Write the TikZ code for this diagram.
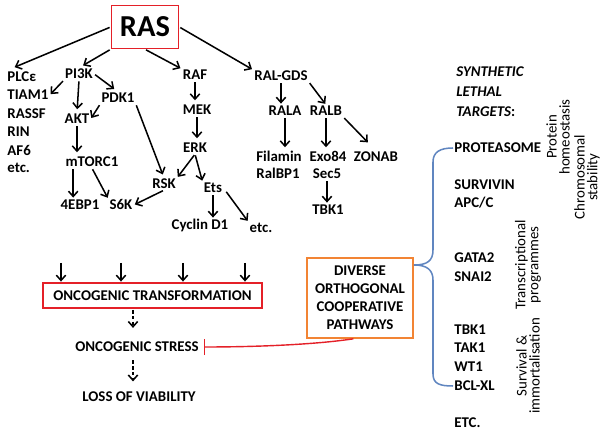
\documentclass[tikz,border=0pt]{standalone}
\usepackage{fontspec}
\setmainfont{Carlito}
\usetikzlibrary{arrows.meta,calc}

\definecolor{rasred}{RGB}{228,32,40}
\definecolor{divorange}{RGB}{242,132,52}
\definecolor{braceblue}{RGB}{96,134,192}

\tikzset{
	lbl/.style={font=\fontsize{12.7}{15.8}\selectfont\bfseries, inner sep=1pt, text height=8.2pt, text depth=0pt},
	arr/.style={-{Straight Barb[length=4.5pt,width=8pt]}, line width=1.3pt, shorten >=1pt, shorten <=1pt},
	side/.style={font=\fontsize{12.7}{11}\selectfont, rotate=90, align=center, inner sep=0pt},
}

\begin{document}
\begin{tikzpicture}[x=0.03cm,y=-0.03cm]
			\useasboundingbox (0,0) rectangle (602,430);
			
			% RAS and the effector families
			\node[draw=rasred, line width=1.4pt, minimum width=2.01cm, minimum height=1.29cm, font=\fontsize{26}{26}\selectfont\bfseries] (ras) at (145,27) {RAS};
			
			\foreach \n/\t/\y in {plc/PLCε/77, tiam/TIAM1/95, rassf/RASSF/114, rin/RIN/132, afsix/AF6/151, etcl/etc./168}
			\node[lbl,anchor=west] (\n) at (6,\y) {\t};
			
			\node[lbl] (pik) at (79,74) {PI3K};
			\node[lbl] (pdk) at (118,98) {PDK1};
			\node[lbl] (akt) at (77,119) {AKT};
			\node[lbl] (mtor) at (92,162) {mTORC1};
			\node[lbl] (ebp) at (80,205) {4EBP1};
			\node[lbl] (sixk) at (121,205) {S6K};
			
			\node[lbl] (raf) at (195,75) {RAF};
			\node[lbl] (mek) at (197,110) {MEK};
			\node[lbl] (erk) at (195,148) {ERK};
			\node[lbl] (rsk) at (164,184) {RSK};
			\node[lbl] (ets) at (213,188) {Ets};
			\node[lbl] (cyc) at (200,225) {Cyclin D1};
			\node[lbl] (etcets) at (261,228) {etc.};
			
			\node[lbl] (ralgds) at (281,76) {RAL-GDS};
			\node[lbl] (rala) at (285,111) {RALA};
			\node[lbl] (ralb) at (326,111) {RALB};
			\node[lbl,anchor=west] (fil) at (255,157) {Filamin};
			\node[lbl,anchor=west] (ralbp) at (255,174) {RalBP1};
			\node[lbl] (exo) at (328,157) {Exo84};
			\node[lbl] (sec) at (327,174) {Sec5};
			\node[lbl] (zonab) at (376,157) {ZONAB};
			\node[lbl] (tbka) at (328,210) {TBK1};
			
			% arrows of the pathways
			\draw[arr,shorten >=8pt] (ras.west) -- (plc.north west);
			\draw[arr,shorten >=4pt] (ras.south west) -- (pik.north);
			\draw[arr] (ras.south) -- (raf.north west);
			\draw[arr] (ras.east) -- (ralgds.north west);
			
			\draw[arr] (pik.south west) -- (tiam.east);
			\draw[arr,shorten >=3pt] (pik.south) -- (akt.north);
			\draw[arr,shorten >=4pt] (pik.east) -- (pdk.north);
			\draw[arr] (pdk.south west) -- (akt.east);
			\draw[arr,shorten >=3pt] (pdk.south east) -- (rsk.north);
			\draw[arr,shorten >=3pt] (akt.south) -- (akt.south |- mtor.north);
			\draw[arr] ($(mtor.south west)+(9,0)$) coordinate (m4) -- (m4 |- ebp.north);
			\draw[arr] (mtor.south) -- (sixk.north west);
			\draw[arr] (rsk.south) -- (sixk.east);
			
			\draw[arr,shorten >=3pt] (raf.south) -- (raf.south |- mek.north);
			\draw[arr,shorten >=3pt] (mek.south) -- (mek.south |- erk.north);
			\draw[arr] (erk.south) -- (rsk.north east);
			\draw[arr] (erk.south) -- (ets.north west);
			\draw[arr] (ets.south) -- (ets.south |- cyc.north);
			\draw[arr,shorten <=4pt] (ets.east) -- (etcets.north west);
			
			\draw[arr] (ralgds.south) -- (ralgds.south |- rala.north);
			\draw[arr] (ralgds.south east) -- (ralb.north);
			\draw[arr,shorten >=3pt] (rala.south) -- (rala.south |- fil.north);
			\draw[arr,shorten >=3pt] (ralb.south) -- (ralb.south |- exo.north);
			\draw[arr,shorten >=10pt] (ralb.south east) -- (zonab.north);
			\draw[arr] (sec.south) -- (sec.south |- tbka.north);
			
			% transformation, stress and viability
			\node[lbl, draw=rasred, line width=1.4pt, minimum width=6.57cm, minimum height=0.75cm] (onco) at (152.5,295.5) {ONCOGENIC TRANSFORMATION};
			\node[lbl] (stress) at (137,347) {ONCOGENIC STRESS};
			\node[lbl] (loss) at (139,397) {LOSS OF VIABILITY};
			
			\foreach \x [count=\i] in {61,121,183,245}
			{
				\coordinate (in\i) at (\x,263);
				\draw[arr,shorten <=0pt,shorten >=0.5pt] (in\i) -- (in\i |- onco.north);
			}
			
			\coordinate (spine) at (133,0);
			\draw[arr,dash pattern=on 3pt off 2pt,shorten >=11pt] (onco.south -| spine) -- (stress.north -| spine);
			\draw[arr,dash pattern=on 3pt off 2pt,shorten <=6pt,shorten >=8pt] (stress.south -| spine) -- (loss.north -| spine);
			
			\node[draw=divorange, line width=1.4pt, align=center, inner sep=1pt, minimum width=3.18cm, minimum height=2.4cm, font=\fontsize{12.7}{15.4}\selectfont\bfseries] (div) at (360,298) {DIVERSE\\ORTHOGONAL\\COOPERATIVE\\PATHWAYS};
			
			\draw[rasred, line width=1.2pt, -{Bar[width=14pt,line width=1.4pt]}] ([xshift=-0.2cm]div.south) .. controls +(-40,6) and +(50,0) .. ([xshift=3pt]stress.east);
			
			% synthetic lethal targets
			\foreach \n/\t/\y in {syn/SYNTHETIC/72, leth/LETHAL/92}
			\node[lbl,anchor=west,font=\fontsize{12.7}{15.8}\selectfont\bfseries\itshape] (\n) at (455,\y) {\t};
			\node[lbl,anchor=west] (targ) at (455,112) {\textit{TARGETS}:};
			
			\foreach \n/\t/\y in {prot/PROTEASOME/148, surv/SURVIVIN/185, apc/{APC/C}/203, gata/GATA2/258, snai/SNAI2/277, tbkb/TBK1/330, tak/TAK1/348, wt/WT1/367, bcl/BCL-XL/386, etcr/ETC./423}
			\node[lbl,anchor=west] (\n) at (453,\y) {\t};
			
			\draw[braceblue, line width=1.3pt] (prot.west) .. controls (440,148) and (433,152) .. (433,162) -- (433,250) .. controls (433,261) and (427,265) .. (414,265) .. controls (427,265) and (433,270) .. (433,280) -- (433,374) .. controls (433,384) and (440,386) .. (bcl.west);
			
			\node[side] (homeo) at (558,137) {Protein\\homeostasis};
			\node[side] (chrom) at (587,177) {Chromosomal\\stability};
			\node[side] (transc) at (528,265) {Transcriptional\\programmes};
			\node[side] (surviv) at (528,366) {Survival \&\\immortalisation};
			\end{tikzpicture}
\end{document}
